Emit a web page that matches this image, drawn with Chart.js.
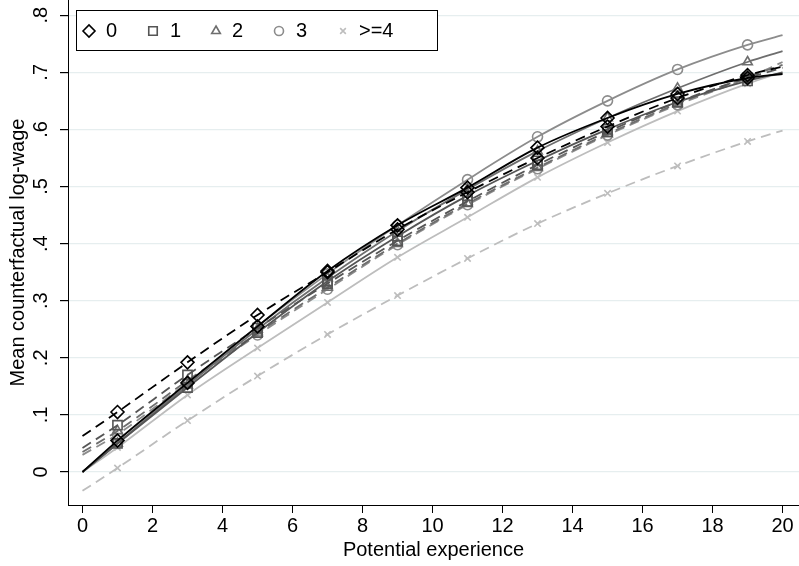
<!DOCTYPE html>
<html>
<head>
<meta charset="utf-8">
<script src="https://cdn.jsdelivr.net/npm/chart.js@4.4.1/dist/chart.umd.min.js"></script>
<style>
  html, body { margin: 0; padding: 0; background: #fff; }
  #wrap { width: 799px; height: 566px; }
</style>
</head>
<body>
<div id="wrap"><canvas id="dataGraph" width="799" height="566"></canvas></div>
<script>
// Potential experience at which the curves are read
const experience = [0, 1, 3, 5, 7, 9, 11, 13, 15, 17, 19, 20];

// solid curves
const solid0 = [0, 0.055, 0.156, 0.255, 0.352, 0.432, 0.498, 0.568, 0.620, 0.662, 0.690, 0.697];
const solid1 = [0, 0.050, 0.148, 0.244, 0.334, 0.413, 0.484, 0.545, 0.600, 0.648, 0.685, 0.700];
const solid2 = [0, 0.050, 0.152, 0.250, 0.340, 0.422, 0.495, 0.562, 0.620, 0.672, 0.718, 0.737];
const solid3 = [0, 0.050, 0.155, 0.255, 0.347, 0.432, 0.512, 0.587, 0.650, 0.705, 0.748, 0.765];
const solid4 = [0, 0.043, 0.135, 0.217, 0.297, 0.376, 0.446, 0.516, 0.577, 0.632, 0.680, 0.700];

// dashed curves
const dashed0 = [0.063, 0.105, 0.192, 0.275, 0.350, 0.425, 0.490, 0.550, 0.605, 0.655, 0.695, 0.710];
const dashed1 = [0.042, 0.082, 0.170, 0.252, 0.330, 0.405, 0.474, 0.538, 0.596, 0.648, 0.690, 0.708];
const dashed2 = [0.035, 0.072, 0.160, 0.243, 0.323, 0.400, 0.470, 0.533, 0.592, 0.645, 0.692, 0.713];
const dashed3 = [0.030, 0.066, 0.156, 0.240, 0.320, 0.398, 0.468, 0.531, 0.590, 0.643, 0.690, 0.718];
const dashed4 = [-0.033, 0.007, 0.090, 0.168, 0.241, 0.309, 0.374, 0.435, 0.488, 0.536, 0.579, 0.598];

const groups = ['0', '1', '2', '3', '>=4'];
const xTicks = [0, 2, 4, 6, 8, 10, 12, 14, 16, 18, 20];
const yTicks = [0, 0.1, 0.2, 0.3, 0.4, 0.5, 0.6, 0.7, 0.8];
const yTickLabels = ['0', '.1', '.2', '.3', '.4', '.5', '.6', '.7', '.8'];

const colors = ['#000000', '#555555', '#6e6e6e', '#8c8c8c', '#bdbdbd'];
const markers = ['rectRot', 'rect', 'triangle', 'circle', 'crossRot'];
const markerSize = [6.5, 6.5, 5.5, 5, 4.5];

const FONT = "'Liberation Sans', Arial, sans-serif";

function toPoints(vals) {
    return vals.map((v, i) => ({ x: experience[i], y: v }));
}

function makeSet(vals, g, dashed) {
    return {
        label: groups[g],
        data: toPoints(vals),
        borderColor: colors[g],
        borderWidth: 1.8,
        borderDash: dashed ? [10, 6] : [],
        cubicInterpolationMode: 'monotone',
        pointStyle: markers[g],
        pointRadius: experience.map(x => (x % 2 === 1 ? markerSize[g] : 0)),
        pointBorderColor: colors[g],
        pointBackgroundColor: 'rgba(0,0,0,0)',
        pointBorderWidth: 1.6,
        fill: false
    };
}

const solids = [solid0, solid1, solid2, solid3, solid4];
const dashes = [dashed0, dashed1, dashed2, dashed3, dashed4];
const datasets = [];
for (let g = 0; g < groups.length; g++) {
    datasets.push(makeSet(solids[g], g, false));
    datasets.push(makeSet(dashes[g], g, true));
}

// rotated y tick labels + legend box inside the plot
const extras = {
    id: 'extras',
    afterDraw(chart) {
        const ctx = chart.ctx;
        const ys = chart.scales.y;
        ctx.save();
        ctx.fillStyle = '#000';
        ctx.font = '20px ' + FONT;
        ctx.textAlign = 'center';
        ctx.textBaseline = 'middle';
        yTicks.forEach((v, i) => {
            ctx.save();
            ctx.translate(41, ys.getPixelForValue(v));
            ctx.rotate(-Math.PI / 2);
            ctx.fillText(yTickLabels[i], 0, 0);
            ctx.restore();
        });

        // legend
        ctx.fillStyle = '#fff';
        ctx.fillRect(76, 10, 361, 40);
        ctx.strokeStyle = '#000';
        ctx.lineWidth = 1;
        ctx.strokeRect(76.5, 10.5, 361, 40);
        const mx = [89, 153, 216, 279, 343];
        const tx = [106, 170, 232, 296, 359];
        ctx.font = '20px ' + FONT;
        ctx.textAlign = 'left';
        groups.forEach((g, i) => {
            ctx.strokeStyle = colors[i];
            ctx.fillStyle = 'rgba(0,0,0,0)';
            ctx.lineWidth = 1.6;
            Chart.helpers.drawPoint(ctx, {
                pointStyle: markers[i], radius: markerSize[i] - 0.5, rotation: 0, borderWidth: 1.6
            }, mx[i], 31);
            ctx.fillStyle = '#000';
            ctx.fillText(g, tx[i], 31);
        });
        ctx.restore();
    }
};

const ctx = document.getElementById('dataGraph').getContext('2d');
new Chart(ctx, {
    type: 'line',
    data: { datasets: datasets },
    options: {
        responsive: false,
        animation: false,
        layout: { padding: 0 },
        plugins: { legend: { display: false }, tooltip: { enabled: false } },
        scales: {
            x: {
                type: 'linear',
                min: -0.414,
                max: 20.47,
                afterBuildTicks: s => { s.ticks = xTicks.map(v => ({ value: v })); },
                afterFit: s => { s.height = 61; },
                grid: { drawOnChartArea: false, drawTicks: true, tickLength: 8, tickColor: '#000' },
                border: { color: '#000', width: 1 },
                ticks: { color: '#000', font: { family: FONT, size: 20 }, padding: 1, maxRotation: 0 },
                title: {
                    display: true, text: 'Potential experience', color: '#000',
                    font: { family: FONT, size: 20 }, padding: { top: 0, bottom: 4 }
                }
            },
            y: {
                type: 'linear',
                min: -0.0578,
                max: 0.8266,
                afterBuildTicks: s => { s.ticks = yTicks.map(v => ({ value: v })); },
                afterFit: s => { s.width = 68; },
                grid: { color: '#e6eeef', lineWidth: 1.2, drawTicks: true, tickLength: 8, tickColor: '#000' },
                border: { color: '#000', width: 1 },
                ticks: { display: false },
                title: {
                    display: true, text: 'Mean counterfactual log-wage', color: '#000',
                    font: { family: FONT, size: 20 }, padding: { top: 6, bottom: 0 }
                }
            }
        }
    },
    plugins: [extras]
});
</script>
</body>
</html>
